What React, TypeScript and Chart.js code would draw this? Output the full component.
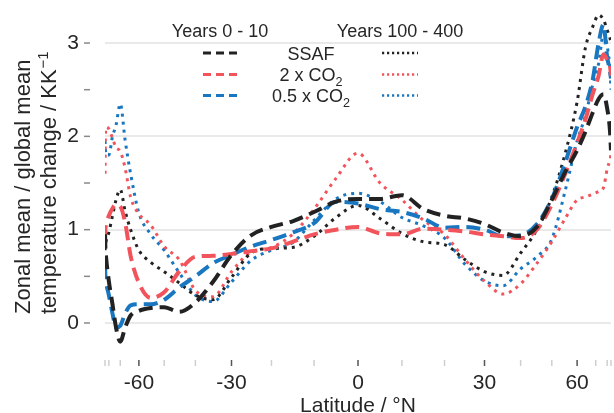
import React, { useEffect, useRef } from 'react';
import { Chart, registerables } from 'chart.js';

Chart.register(...registerables);

// ---------- data ----------
const latitudes = [-89, -87, -85, -80, -76, -73, -70, -67, -64, -60, -55, -50, -45, -40, -35, -30, -25, -20, -15, -10, -5, 0, 5, 10, 15, 20, 25, 30, 35, 40, 45, 50, 55, 60, 64, 68, 72, 76, 80, 85, 89];

const ssafEarly = [0.95, 0.82, 0.72, 0.45, 0.2, -0.05, -0.2, -0.05, 0.08, 0.13, 0.16, 0.17, 0.12, 0.22, 0.44, 0.73, 0.94, 1.03, 1.09, 1.19, 1.3, 1.33, 1.33, 1.37, 1.22, 1.15, 1.12, 1.06, 0.97, 0.93, 1.03, 1.32, 1.62, 1.85, 2.05, 2.25, 2.4, 2.45, 2.3, 2.05, 1.85];
const co2x2Early = [0.9, 1.0, 1.05, 1.15, 1.23, 1.27, 1.25, 1.08, 0.72, 0.43, 0.27, 0.33, 0.55, 0.71, 0.72, 0.74, 0.77, 0.8, 0.87, 0.95, 1.0, 1.03, 0.96, 0.95, 1.01, 1.0, 0.98, 0.95, 0.93, 0.91, 1.0, 1.27, 1.6, 1.93, 2.18, 2.45, 2.65, 2.88, 2.82, 2.75, 2.65];
const co2halfEarly = [0.62, 0.52, 0.45, 0.3, 0.1, -0.05, -0.03, 0.1, 0.19, 0.2, 0.2, 0.25, 0.38, 0.5, 0.64, 0.73, 0.82, 0.89, 0.97, 1.07, 1.3, 1.28, 1.22, 1.19, 1.12, 1.02, 1.03, 1.0, 0.93, 0.94, 1.06, 1.33, 1.72, 2.1, 2.32, 2.6, 3.0, 3.2, 2.85, 2.7, 2.62];

const ssafLate = [0.78, 0.82, 0.87, 0.97, 1.15, 1.32, 1.43, 1.2, 1.0, 0.78, 0.65, 0.55, 0.43, 0.3, 0.25, 0.49, 0.75, 0.8, 0.81, 0.93, 1.13, 1.26, 1.12, 0.96, 0.87, 0.84, 0.68, 0.55, 0.51, 0.75, 1.0, 1.35, 1.82, 2.37, 2.95, 3.17, 3.3, 3.25, 3.14, 3.05, 3.0];
const co2x2Late = [1.6, 1.95, 2.1, 2.08, 1.98, 1.88, 1.84, 1.66, 1.35, 1.17, 1.05, 0.82, 0.68, 0.35, 0.28, 0.55, 0.76, 0.81, 0.95, 1.22, 1.55, 1.82, 1.5, 1.32, 1.1, 0.95, 0.68, 0.45, 0.31, 0.42, 0.64, 0.87, 1.12, 1.32, 1.35, 1.38, 1.41, 1.45, 1.65, 1.75, 1.8];
const co2halfLate = [1.95, 1.87, 1.8, 1.8, 2.0, 2.12, 2.35, 1.96, 1.6, 1.18, 0.95, 0.78, 0.54, 0.3, 0.23, 0.44, 0.67, 0.78, 0.86, 1.1, 1.33, 1.39, 1.3, 1.13, 1.04, 0.91, 0.63, 0.45, 0.4, 0.58, 0.71, 0.9, 1.42, 1.95, 2.22, 2.55, 2.78, 3.1, 2.97, 2.7, 2.5];

const xTickLats = [-90, -80, -70, -60, -50, -40, -30, -20, -10, 0, 10, 20, 30, 40, 50, 60, 70, 80, 90];
const xLabelLats = [-60, -30, 0, 30, 60];
const yTickValues = [0, 0.5, 1, 1.5, 2, 2.5, 3];
const yLabelValues = [0, 1, 2, 3];

const legendHeaders = ['Years 0 - 10', 'Years 100 - 400'];
const legendRows = [
  [{ t: 'SSAF', sub: false }],
  [{ t: '2 x CO', sub: false }, { t: '2', sub: true }],
  [{ t: '0.5 x CO', sub: false }, { t: '2', sub: true }],
];
const yTitleLine1 = 'Zonal mean / global mean';
const yTitleLine2 = 'temperature change / KK';
const yTitleSup = '\u22121';
const xTitle = 'Latitude / \u00b0N';

// ---------- styles ----------
const FONT = "'Liberation Sans', Arial, sans-serif";
const TEXT = '#262626';
const BLACK = '#222222';
const RED = '#f2545b';
const BLUE = '#1877c0';
const colors = [BLACK, RED, BLUE];
const DASH = [14, 7];
const DOT = [3, 5];

const rad = (d: number) => (d * Math.PI) / 180;
const toSin = (lat: number) => Math.sin(rad(lat));

function series(label: string, vals: number[], color: string, dotted: boolean) {
  return {
    label,
    data: latitudes.map((lat, i) => ({ x: toSin(lat), y: vals[i] })),
    borderColor: color,
    backgroundColor: color,
    borderWidth: dotted ? 3 : 4,
    borderDash: dotted ? DOT : DASH,
    borderCapStyle: 'butt' as const,
    pointRadius: 0,
    fill: false,
    cubicInterpolationMode: 'monotone' as const,
  };
}

function drawParts(ctx: CanvasRenderingContext2D, parts: { t: string; sub: boolean }[], cx: number, baseline: number, size: number) {
  const subSize = size * 0.7;
  let total = 0;
  const widths = parts.map((p) => {
    ctx.font = `${p.sub ? subSize : size}px ${FONT}`;
    const w = ctx.measureText(p.t).width;
    total += w;
    return w;
  });
  let x = cx - total / 2;
  ctx.textAlign = 'left';
  ctx.textBaseline = 'alphabetic';
  parts.forEach((p, i) => {
    ctx.font = `${p.sub ? subSize : size}px ${FONT}`;
    ctx.fillText(p.t, x, baseline + (p.sub ? size * 0.28 : 0));
    x += widths[i];
  });
}

const overlay = {
  id: 'overlay',
  afterDraw(chart: any) {
    const ctx: CanvasRenderingContext2D = chart.ctx;
    const xs = chart.scales.x;
    const ys = chart.scales.y;
    const area = chart.chartArea;
    ctx.save();

    // x tick marks (offset below the plot)
    xTickLats.forEach((lat) => {
      const px = xs.getPixelForValue(toSin(lat));
      const major = xLabelLats.includes(lat);
      ctx.strokeStyle = major ? '#555555' : '#cfcfcf';
      ctx.lineWidth = 1.5;
      ctx.beginPath();
      ctx.moveTo(px, area.bottom + 9);
      ctx.lineTo(px, area.bottom + 15);
      ctx.stroke();
    });

    // y tick marks (offset left of the plot)
    yTickValues.forEach((v) => {
      const py = ys.getPixelForValue(v);
      ctx.strokeStyle = '#8a8a8a';
      ctx.lineWidth = 1.5;
      ctx.beginPath();
      ctx.moveTo(area.left - 21, py);
      ctx.lineTo(area.left - 15, py);
      ctx.stroke();
    });

    ctx.fillStyle = TEXT;

    // x title
    ctx.font = `21px ${FONT}`;
    ctx.textAlign = 'center';
    ctx.textBaseline = 'alphabetic';
    ctx.fillText(xTitle, (xs.getPixelForValue(0)), 412);

    // y title (two lines, rotated, starting from the bottom)
    ctx.save();
    ctx.translate(30, 314);
    ctx.rotate(-Math.PI / 2);
    ctx.font = `22px ${FONT}`;
    ctx.textAlign = 'left';
    ctx.textBaseline = 'alphabetic';
    ctx.fillText(yTitleLine1, 0, 0);
    ctx.restore();

    ctx.save();
    ctx.translate(56, 314);
    ctx.rotate(-Math.PI / 2);
    ctx.font = `22px ${FONT}`;
    ctx.textAlign = 'left';
    ctx.textBaseline = 'alphabetic';
    ctx.fillText(yTitleLine2, 0, 0);
    const w2 = ctx.measureText(yTitleLine2).width;
    ctx.font = `15px ${FONT}`;
    ctx.fillText(yTitleSup, w2 + 1, -8);
    ctx.restore();

    // legend
    ctx.font = `18px ${FONT}`;
    ctx.textAlign = 'center';
    ctx.textBaseline = 'alphabetic';
    ctx.fillText(legendHeaders[0], 220, 37);
    ctx.fillText(legendHeaders[1], 400, 37);

    const rowBase = [59.5, 80.5, 101.5];
    const rowLine = [53, 74.5, 95.5];
    legendRows.forEach((parts, i) => {
      ctx.fillStyle = TEXT;
      drawParts(ctx, parts, 311, rowBase[i], 18);
      // dashed sample
      ctx.strokeStyle = colors[i];
      ctx.lineWidth = 3;
      ctx.lineCap = 'butt';
      ctx.setLineDash([8, 5]);
      ctx.beginPath();
      ctx.moveTo(203, rowLine[i]);
      ctx.lineTo(238, rowLine[i]);
      ctx.stroke();
      // dotted sample
      ctx.lineWidth = 2.5;
      ctx.setLineDash([2.2, 2.8]);
      ctx.beginPath();
      ctx.moveTo(382, rowLine[i]);
      ctx.lineTo(418, rowLine[i]);
      ctx.stroke();
    });
    ctx.setLineDash([]);
    ctx.restore();
  },
};

export default function App() {
  const ref = useRef<HTMLCanvasElement | null>(null);
  useEffect(() => {
    if (!ref.current) return;
    const chart = new Chart(ref.current, {
      type: 'line',
      data: {
        datasets: [
          series('SSAF (0-10)', ssafEarly, BLACK, false),
          series('2 x CO2 (0-10)', co2x2Early, RED, false),
          series('0.5 x CO2 (0-10)', co2halfEarly, BLUE, false),
          series('SSAF (100-400)', ssafLate, BLACK, true),
          series('2 x CO2 (100-400)', co2x2Late, RED, true),
          series('0.5 x CO2 (100-400)', co2halfLate, BLUE, true),
        ],
      },
      options: {
        animation: false,
        responsive: true,
        maintainAspectRatio: false,
        devicePixelRatio: 1,
        layout: { padding: { top: 10, right: 3, left: 0, bottom: 0 } },
        plugins: { legend: { display: false }, tooltip: { enabled: false } },
        scales: {
          x: {
            type: 'linear',
            min: -1,
            max: 1,
            afterBuildTicks: (s: any) => {
              s.ticks = xTickLats.map((l) => ({ value: toSin(l) }));
            },
            afterFit: (s: any) => {
              s.height = 62;
              s.paddingLeft = 0;
              s.paddingRight = 0;
            },
            grid: { drawOnChartArea: false, drawTicks: false },
            border: { display: false },
            ticks: {
              autoSkip: false,
              maxRotation: 0,
              minRotation: 0,
              padding: 20,
              color: TEXT,
              font: { family: FONT, size: 21 },
              callback: (v: any) => {
                const lat = Math.round((Math.asin(Math.max(-1, Math.min(1, Number(v)))) * 180) / Math.PI);
                return xLabelLats.includes(lat) ? String(lat) : '';
              },
            },
          },
          y: {
            type: 'linear',
            min: -0.3,
            max: 3.354,
            afterBuildTicks: (s: any) => {
              s.ticks = yTickValues.map((v) => ({ value: v }));
            },
            afterFit: (s: any) => {
              s.width = 105;
              s.paddingTop = 0;
              s.paddingBottom = 0;
            },
            grid: {
              drawTicks: false,
              lineWidth: 2,
              color: (c: any) => (c.tick && yLabelValues.includes(c.tick.value) ? '#e9e9e9' : 'rgba(0,0,0,0)'),
            },
            border: { display: false },
            ticks: {
              padding: 26,
              color: TEXT,
              font: { family: FONT, size: 21 },
              callback: (v: any) => (yLabelValues.includes(Number(v)) ? String(v) : ''),
            },
          },
        },
      },
      plugins: [overlay],
    });
    return () => chart.destroy();
  }, []);

  return (
    <div style={{ position: 'fixed', left: 0, top: 0, width: 614, height: 413, background: '#fff' }}>
      <canvas ref={ref} />
    </div>
  );
}
